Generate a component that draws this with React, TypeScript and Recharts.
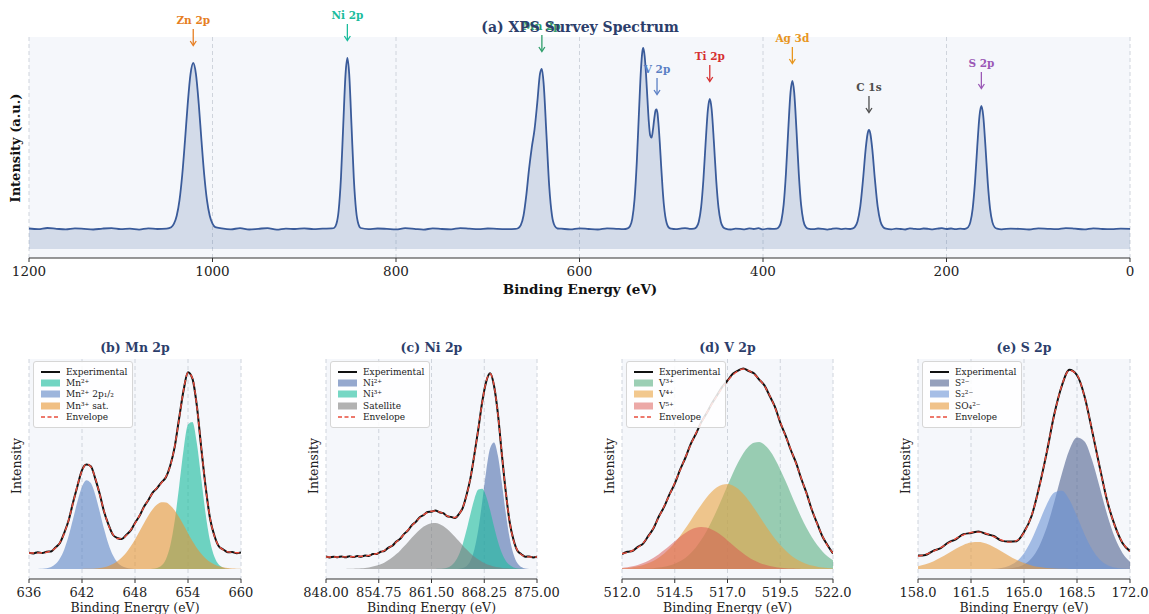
import React from 'react'
import { ComposedChart, Area, Line, XAxis, YAxis, CartesianGrid, ReferenceDot } from 'recharts'

const FONT = '"DejaVu Serif", serif'
const NAVY = '#2c3e6b'
const PLOT_BG = '#f5f7fb'
const GRID = '#cfd4dc'
const AXIS = '#333'
const EXP_COLOR = '#111'
const ENV_COLOR = '#e74c3c'

// ---------- (a) survey spectrum: [binding energy, intensity] ----------
const surveyPoints: [number, number][] = [
    [1200, 20.5], [1190, 19.8], [1180, 21.0], [1170, 20.2], [1160, 19.6], [1150, 20.6], [1140, 20.1], [1130, 19.5],
    [1120, 20.4], [1110, 20.9], [1100, 19.9], [1090, 20.3], [1080, 19.4], [1070, 20.7], [1060, 20.0], [1050, 20.4],
    [1045, 21.8], [1042, 25.3], [1039, 33.2], [1036, 48.6], [1033, 74], [1030, 108.2], [1027, 145.3], [1024, 174.7],
    [1021, 186], [1018, 174.7], [1015, 145.3], [1012, 108.2], [1009, 74], [1006, 48.6], [1003, 33.2], [1000, 25.3], [997, 21.8],
    [990, 20.6], [980, 19.7], [970, 20.8], [960, 19.5], [950, 20.2], [940, 20.9], [930, 19.3], [920, 20.4],
    [910, 20.0], [900, 20.7], [890, 19.8], [880, 20.3], [870, 20.6],
    [867.5, 21], [865, 24.9], [862.5, 38.5], [860, 71], [857.5, 123.8], [855, 174.9], [853, 191], [851, 174.9],
    [848.5, 123.8], [846, 71], [843.5, 38.5], [841, 24.9], [838.5, 21],
    [830, 19.9], [820, 20.5], [810, 20.1], [800, 19.6], [790, 20.8], [780, 20.2], [770, 19.4], [760, 20.6],
    [750, 20.0], [740, 19.7], [730, 20.9], [720, 20.3], [710, 19.8], [700, 20.5], [690, 20.1], [680, 19.9],
    [670, 20.1], [667, 20.8], [664, 23.8], [661, 33.5], [658, 53.6], [655, 79.9], [652, 101.7], [649, 119.6],
    [646, 146.6], [643, 175.6], [641, 180.1], [639, 164.4], [636, 113.9], [633, 62.8], [630, 33.7], [627, 23.1], [624, 20.5],
    [620, 20.3], [610, 19.6], [600, 20.7], [590, 20.0], [580, 19.5], [570, 20.6], [560, 20.2], [552, 19.8],
    [547.5, 20.6], [545, 22.7], [542.5, 30.1], [540, 49.7], [537.5, 87.9], [535, 140.7], [533, 179.7], [531.5, 197.4],
    [530.5, 201], [529, 193], [527.5, 175], [526, 150.7], [524.5, 127.7], [523, 113.7], [521.5, 111.3], [520, 118.8],
    [518.5, 130.4], [517, 138.9], [516, 139.7], [515, 135.8], [514, 126], [512.5, 106.5], [511, 83], [509.5, 61.3],
    [508, 44], [506.5, 32.6], [505, 26], [503.5, 22.5], [502, 21], [500, 20.3],
    [495, 19.8], [490, 20.4], [485, 20.9], [480, 20.2],
    [475, 20.4], [472.5, 21.9], [470, 27.3], [467.5, 41.3], [465, 68.8], [462.5, 106.7], [460, 140], [458, 150],
    [456, 140], [453.5, 106.7], [451, 68.8], [448.5, 41.3], [446, 27.3], [443.5, 21.9], [441, 20.4],
    [435, 19.5], [430, 20.3], [425, 20.1], [420, 19.7], [415, 20.6], [410, 20.0], [405, 20.8], [400, 19.6], [395, 20.4], [390, 20.1],
    [385, 20.4], [382.5, 22.2], [380, 28.3], [377.5, 44.3], [375, 75.5], [372.5, 118.7], [370, 156.6], [368, 168],
    [366, 156.6], [363.5, 118.7], [361, 75.5], [358.5, 44.3], [356, 28.3], [353.5, 22.2], [351, 20.4],
    [345, 19.8], [340, 20.5], [335, 20.1], [330, 19.4], [325, 20.2], [320, 20.7], [315, 19.9], [310, 20.3], [305, 20.0],
    [303, 20.3], [300, 21.9], [297, 27.5], [294, 42.3], [291, 69.3], [288, 100.9], [286, 115.3], [284.5, 119],
    [283, 115.3], [281, 100.9], [278, 69.3], [275, 42.3], [272, 27.5], [269, 21.9], [266, 20.3],
    [260, 19.6], [255, 20.4], [250, 20.0], [245, 19.5], [240, 20.6], [235, 20.1], [230, 19.8], [225, 20.5],
    [220, 20.2], [215, 19.7], [210, 20.3], [205, 20.8], [200, 20.0], [195, 20.5], [190, 19.9], [185, 20.3], [180, 20.0],
    [179, 20.4], [176.5, 21.8], [174, 26.9], [171.5, 40.2], [169, 66.1], [166.5, 102], [164, 133.5], [162, 143],
    [160, 133.5], [157.5, 102], [155, 66.1], [152.5, 40.2], [150, 26.9], [147.5, 21.8], [145, 20.4],
    [140, 19.7], [130, 20.4], [120, 20.1], [110, 19.5], [100, 20.6], [90, 20.2], [80, 19.8], [70, 20.9],
    [60, 20.3], [50, 19.6], [40, 20.7], [30, 20.0], [20, 19.8], [10, 20.4], [0, 20.1],
]
const surveyTicks = [0, 200, 400, 600, 800, 1000, 1200]

const peakLabels = [
    { label: 'Zn 2p', energy: 1021, intensity: 186, color: '#e67e22' },
    { label: 'Ni 2p', energy: 853, intensity: 191, color: '#1abc9c' },
    { label: 'Mn 2p', energy: 641, intensity: 180, color: '#2e9e6a' },
    { label: 'V 2p', energy: 515.5, intensity: 137, color: '#5b7fc4' },
    { label: 'Ti 2p', energy: 458, intensity: 150, color: '#d63031' },
    { label: 'Ag 3d', energy: 368, intensity: 168, color: '#e8961e' },
    { label: 'C 1s', energy: 284.5, intensity: 119, color: '#4d4d4d' },
    { label: 'S 2p', energy: 162, intensity: 143, color: '#9b59b6' },
]

// ---------- (b) Mn 2p ----------
const mnEnergy = [636, 636.5, 637, 637.5, 638, 638.5, 639, 639.5, 640, 640.5, 641, 641.5, 642, 642.5, 643, 643.5,
    644, 644.5, 645, 645.5, 646, 646.5, 647, 647.5, 648, 648.5, 649, 649.5, 650, 650.5, 651, 651.5, 652, 652.5,
    653, 653.5, 654, 654.5, 655, 655.5, 656, 656.5, 657, 657.5, 658, 658.5, 659, 659.5, 660]
const mnExperimental = [16.4, 15.6, 16.8, 15.9, 17.3, 17.6, 21.5, 26.0, 36.4, 49.0, 66.9, 83.6, 98.9, 104.5, 102.8, 90.4,
    75.2, 57.2, 44.3, 34.2, 31.0, 29.9, 34.0, 38.3, 46.1, 52.9, 62.0, 68.7, 76.4, 80.9, 86.7, 91.8, 103.8, 122.4,
    151.0, 178.7, 196.7, 190.4, 163.3, 121.2, 81.8, 50.3, 33.0, 22.5, 19.5, 16.7, 17.0, 15.8, 16.6]
const mnEnvelope = [16, 16, 16.1, 16.3, 16.8, 18.1, 21.0, 26.5, 35.8, 49.4, 66.4, 84.1, 98.3, 105.0, 102.2, 90.9,
    74.7, 57.7, 43.8, 34.7, 30.5, 30.4, 33.5, 38.8, 45.6, 53.4, 61.5, 69.2, 75.9, 81.4, 86.2, 92.3, 103.3, 122.9,
    150.5, 179.2, 196.2, 190.9, 162.8, 121.7, 81.3, 50.8, 32.5, 23.0, 19.0, 17.2, 16.5, 16.3, 16.2]
const mn2Plus = [0, 0, 0, 0, 0, 0, 0, 0, 0, 0, 0, 0, 0, 0, 0, 0, 0, 0, 0, 0, 0, 0, 0, 0, 0, 0, 0, 0,
    0.2, 1.0, 3.4, 9.8, 23.7, 48.4, 82.8, 119.3, 144.4, 146.9, 125.7, 90.4, 54.7, 27.7, 11.9, 4.2, 1.3, 0.3, 0, 0, 0]
const mn2PlusHalf = [0, 0, 0.1, 0.3, 0.8, 2.1, 5.0, 10.5, 19.8, 33.4, 50.4, 68.0, 82.2, 88.8, 85.9, 74.3, 57.6, 39.9,
    24.7, 13.7, 6.8, 3.0, 1.2, 0.4, 0.1, 0, 0, 0, 0, 0, 0, 0, 0, 0, 0, 0, 0, 0, 0, 0, 0, 0, 0, 0, 0, 0, 0, 0, 0]
const mn3Sat = [0, 0, 0, 0, 0, 0, 0, 0, 0, 0, 0, 0.1, 0.1, 0.2, 0.3, 0.6, 1.1, 1.8, 3.1, 5.0, 7.7, 11.4, 16.3, 22.4,
    29.5, 37.4, 45.5, 53.2, 59.7, 64.4, 66.8, 66.5, 63.6, 58.5, 51.7, 43.9, 35.8, 28.0, 21.1, 15.3, 10.6, 7.1, 4.6,
    2.8, 1.7, 0.9, 0.5, 0.3, 0.2]

// ---------- (c) Ni 2p ----------
const niEnergy = [848, 848.5, 849, 849.5, 850, 850.5, 851, 851.5, 852, 852.5, 853, 853.5, 854, 854.5, 855, 855.5,
    856, 856.5, 857, 857.5, 858, 858.5, 859, 859.5, 860, 860.5, 861, 861.5, 862, 862.5, 863, 863.5, 864, 864.5,
    865, 865.5, 866, 866.5, 867, 867.5, 868, 868.5, 869, 869.5, 870, 870.5, 871, 871.5, 872, 872.5, 873, 873.5,
    874, 874.5, 875]
const niExperimental = [12.5, 11.6, 12.3, 11.8, 12.6, 11.7, 12.8, 11.9, 12.9, 12.2, 13.5, 13.1, 14.9, 15.0, 17.2, 18.2,
    21.4, 23.3, 27.4, 30.2, 35.1, 38.6, 43.9, 47.1, 51.8, 54.0, 57.1, 57.3, 58.5, 56.7, 55.9, 52.8, 52.1, 51.0,
    54.9, 61.2, 74.4, 91.4, 115.2, 140.4, 167.6, 187.3, 195.7, 183.2, 155.0, 114.9, 77.5, 47.0, 29.0, 18.2, 14.8,
    12.2, 12.6, 11.6, 12.4]
const niEnvelope = [12, 12, 12, 12, 12.1, 12.1, 12.2, 12.3, 12.4, 12.7, 13.0, 13.6, 14.4, 15.4, 16.8, 18.6,
    20.9, 23.7, 26.9, 30.6, 34.7, 39.0, 43.4, 47.5, 51.3, 54.4, 56.6, 57.8, 58.0, 57.1, 55.4, 53.2, 51.6, 51.5,
    54.4, 61.6, 73.9, 91.8, 114.7, 140.8, 167.1, 187.7, 195.2, 183.7, 154.5, 115.3, 77.0, 47.4, 28.5, 18.6, 14.3,
    12.6, 12.1, 12, 12]
const ni2Plus = [0, 0, 0, 0, 0, 0, 0, 0, 0, 0, 0, 0, 0, 0, 0, 0, 0, 0, 0, 0, 0, 0, 0, 0, 0, 0, 0, 0, 0, 0, 0, 0, 0,
    0.1, 0.3, 1.0, 3.1, 8.6, 20.1, 40.0, 67.8, 98.0, 120.7, 126.6, 113.2, 86.2, 56.0, 31.0, 14.6, 5.8, 2.0, 0.6,
    0.1, 0, 0]
const ni3Plus = [0, 0, 0, 0, 0, 0, 0, 0, 0, 0, 0, 0, 0, 0, 0, 0, 0, 0, 0, 0, 0, 0, 0, 0, 0, 0, 0, 0,
    0.1, 0.2, 0.5, 1.3, 3.3, 7.2, 14.2, 25.0, 39.4, 55.6, 70.3, 79.4, 80.3, 72.6, 58.8, 42.6, 27.6, 16.0, 8.3, 3.9,
    1.6, 0.6, 0.2, 0, 0, 0, 0]
const niSatellite = [0, 0, 0, 0, 0.1, 0.1, 0.2, 0.3, 0.4, 0.7, 1.0, 1.6, 2.4, 3.4, 4.8, 6.6, 8.9, 11.7, 14.9, 18.6,
    22.7, 27.0, 31.4, 35.5, 39.3, 42.4, 44.6, 45.8, 45.9, 44.9, 42.9, 39.9, 36.3, 32.2, 27.9, 23.6, 19.4, 15.6,
    12.3, 9.4, 7.0, 5.1, 3.7, 2.5, 1.7, 1.1, 0.7, 0.5, 0.3, 0.2, 0.1, 0, 0, 0, 0]

// ---------- (d) V 2p ----------
const vEnergy = [512, 512.25, 512.5, 512.75, 513, 513.25, 513.5, 513.75, 514, 514.25, 514.5, 514.75, 515, 515.25,
    515.5, 515.75, 516, 516.25, 516.5, 516.75, 517, 517.25, 517.5, 517.75, 518, 518.25, 518.5, 518.75, 519,
    519.25, 519.5, 519.75, 520, 520.25, 520.5, 520.75, 521, 521.25, 521.5, 521.75, 522]
const vExperimental = [15.0, 17.2, 18.0, 22.3, 25.4, 33.1, 41.0, 52.7, 62.4, 74.6, 85.3, 99.1, 111.0, 124.7, 135.0,
    146.6, 155.4, 165.2, 173.6, 182.1, 188.5, 195.2, 198.4, 200.6, 198.0, 195.7, 189.4, 183.6, 173.0, 162.1, 146.4,
    133.6, 119.0, 106.1, 90.0, 75.6, 59.0, 45.6, 32.5, 23.6, 15.4]
const vEnvelope = [15.5, 16.5, 18.5, 21.5, 26, 32.5, 41.5, 52, 63, 74, 86, 98.5, 111.5, 124, 135.5, 146, 155.5, 164.5,
    173, 181, 188, 194, 198, 200, 198.5, 195, 190, 183, 173.5, 161.5, 147, 133, 119.5, 105.5, 90.5, 75, 59.5,
    45, 33, 23, 16]
const v3Plus = [0.0, 0.0, 0.1, 0.2, 0.3, 0.5, 0.8, 1.4, 2.2, 3.4, 5.2, 7.7, 11.1, 15.7, 21.6, 28.9, 37.6, 47.7, 58.9,
    71.1, 83.4, 95.5, 106.4, 115.7, 122.4, 126.2, 126.9, 124.2, 118.4, 110.1, 99.6, 87.9, 75.6, 63.2, 51.6, 41.0,
    31.8, 24.0, 17.6, 12.6, 8.8]
const v4Plus = [0.7, 1.1, 1.8, 2.7, 4.0, 5.9, 8.3, 11.5, 15.5, 20.4, 26.3, 33.1, 40.4, 48.3, 56.4, 64.1, 71.2, 77.2,
    81.7, 84.3, 85.0, 83.5, 80.2, 75.0, 68.5, 61.1, 53.2, 45.2, 37.4, 30.2, 23.9, 18.4, 13.8, 10.1, 7.2, 5.1, 3.4,
    2.3, 1.5, 0.9, 0.6]
const v5Plus = [1.1, 1.8, 2.7, 4.1, 5.9, 8.3, 11.3, 14.8, 18.9, 23.3, 27.8, 32.2, 36.1, 39.2, 41.2, 42.0, 41.4, 39.6,
    36.7, 32.9, 28.6, 24.0, 19.6, 15.5, 11.8, 8.7, 6.3, 4.4, 2.9, 1.9, 1.2, 0.7, 0.4, 0.2, 0.1, 0, 0, 0, 0, 0, 0]

// ---------- (e) S 2p ----------
const sEnergy = [158, 158.5, 159, 159.5, 160, 160.5, 161, 161.5, 162, 162.5, 163, 163.5, 164, 164.5, 165, 165.5,
    166, 166.5, 167, 167.5, 168, 168.5, 169, 169.5, 170, 170.5, 171, 171.5, 172]
const sExperimental = [13.4, 14.1, 18.2, 20.9, 26.5, 29.7, 34.8, 36.0, 37.6, 35.0, 33.0, 28.4, 27.5, 27.7, 36.9, 53.0,
    81.9, 116.4, 154.7, 183.3, 199.2, 193.7, 172.6, 138.0, 101.9, 67.7, 43.4, 26.1, 17.9]
const sEnvelope = [12.7, 14.7, 17.6, 21.4, 25.8, 30.3, 34.1, 36.5, 36.9, 35.5, 32.4, 29.0, 26.9, 28.3, 36.3, 53.6,
    81.3, 116.9, 154.1, 183.8, 198.6, 194.2, 172.1, 138.5, 101.3, 68.2, 42.9, 26.6, 17.4]
const s2Minus = [0, 0, 0, 0, 0, 0, 0, 0, 0, 0, 0, 0.2, 0.6, 1.7, 4.6, 10.8, 22.6, 41.4, 67.1, 95.3, 119.3, 131.5,
    127.5, 108.8, 81.7, 54.1, 31.4, 16.1, 7.3]
const s22Minus = [0, 0, 0, 0, 0, 0, 0, 0, 0, 0.1, 0.3, 1.0, 3.0, 7.4, 15.8, 29.3, 46.8, 64.5, 76.5, 78.3, 69.2, 52.7,
    34.6, 19.7, 9.6, 4.1, 1.5, 0.5, 0.1]
const sSulfate = [2.7, 4.7, 7.6, 11.4, 15.8, 20.3, 24.1, 26.5, 26.9, 25.4, 22.1, 17.8, 13.3, 9.2, 5.9, 3.5, 1.9, 1.0,
    0.5, 0.2, 0.1, 0, 0, 0, 0, 0, 0, 0, 0]

type Component = { name: string; values: number[]; color: string; opacity: number }
type PanelSpec = {
    title: string
    plotLeft: number
    plotWidth: number
    domain: [number, number]
    ticks: number[]
    digits: number
    energy: number[]
    experimental: number[]
    envelope: number[]
    components: Component[]
}

const panels: PanelSpec[] = [
    {
        title: '(b) Mn 2p', plotLeft: 29, plotWidth: 212, domain: [636, 660], ticks: [636, 642, 648, 654, 660], digits: 0,
        energy: mnEnergy, experimental: mnExperimental, envelope: mnEnvelope,
        components: [
            { name: 'Mn²⁺', values: mn2Plus, color: '#1abc9c', opacity: 0.62 },
            { name: 'Mn²⁺ 2p₁/₂', values: mn2PlusHalf, color: '#5b84c4', opacity: 0.6 },
            { name: 'Mn³⁺ sat.', values: mn3Sat, color: '#e69532', opacity: 0.6 },
        ],
    },
    {
        title: '(c) Ni 2p', plotLeft: 326, plotWidth: 211, domain: [848, 875], ticks: [848, 854.75, 861.5, 868.25, 875], digits: 2,
        energy: niEnergy, experimental: niExperimental, envelope: niEnvelope,
        components: [
            { name: 'Ni²⁺', values: ni2Plus, color: '#4f6ead', opacity: 0.6 },
            { name: 'Ni³⁺', values: ni3Plus, color: '#1abc9c', opacity: 0.6 },
            { name: 'Satellite', values: niSatellite, color: '#7f7f7f', opacity: 0.6 },
        ],
    },
    {
        title: '(d) V 2p', plotLeft: 622, plotWidth: 211, domain: [512, 522], ticks: [512, 514.5, 517, 519.5, 522], digits: 1,
        energy: vEnergy, experimental: vExperimental, envelope: vEnvelope,
        components: [
            { name: 'V³⁺', values: v3Plus, color: '#5aaf82', opacity: 0.6 },
            { name: 'V⁴⁺', values: v4Plus, color: '#eaa443', opacity: 0.6 },
            { name: 'V⁵⁺', values: v5Plus, color: '#d9534f', opacity: 0.5 },
        ],
    },
    {
        title: '(e) S 2p', plotLeft: 918, plotWidth: 212, domain: [158, 172], ticks: [158, 161.5, 165, 168.5, 172], digits: 1,
        energy: sEnergy, experimental: sExperimental, envelope: sEnvelope,
        components: [
            { name: 'S²⁻', values: s2Minus, color: '#4f6190', opacity: 0.6 },
            { name: 'S₂²⁻', values: s22Minus, color: '#6b93d6', opacity: 0.6 },
            { name: 'SO₄²⁻', values: sSulfate, color: '#e69a3c', opacity: 0.6 },
        ],
    },
]

const PeakMarker = ({ cx, cy, label, color }: any) => (
    <g>
        <text x={cx} y={cy - 39} textAnchor="middle" fontSize={10.5} fontWeight="bold" fill={color} fontFamily={FONT}>
            {label}
        </text>
        <line x1={cx} y1={cy - 34} x2={cx} y2={cy - 18} stroke={color} strokeWidth={1.3} />
        <path d={`M${cx - 3},${cy - 22} L${cx},${cy - 17.5} L${cx + 3},${cy - 22}`} fill="none" stroke={color} strokeWidth={1.3} />
    </g>
)

const textDiv = (cx: number, cy: number, text: string, style: React.CSSProperties = {}) => (
    <div
        style={{
            position: 'absolute', left: cx - 150, top: cy - 9, width: 300, height: 18, lineHeight: '18px',
            textAlign: 'center', fontFamily: FONT, whiteSpace: 'nowrap', ...style,
        }}
    >
        {text}
    </div>
)

function SurveyChart() {
    const rows = surveyPoints.map(([energy, intensity]) => ({ energy, intensity }))
    return (
        <>
            <div style={{ position: 'absolute', left: 0, top: 0 }}>
                <ComposedChart width={1149} height={300} data={rows} margin={{ top: 37, right: 19, bottom: 0, left: 29 }}>
                    <CartesianGrid horizontal={false} strokeDasharray="4 3" stroke={GRID} fill={PLOT_BG} />
                    <XAxis
                        type="number" dataKey="energy" domain={[0, 1200]} reversed ticks={surveyTicks} interval={0}
                        height={42} tickSize={4} tickMargin={4} allowDataOverflow
                        tick={{ fontSize: 13.5, fill: '#222', fontFamily: FONT }}
                        axisLine={{ stroke: AXIS, strokeWidth: 1.2 }} tickLine={{ stroke: AXIS }}
                    />
                    <YAxis type="number" domain={[-9, 212]} width={0} tick={false} tickLine={false} axisLine={{ stroke: AXIS, strokeWidth: 1.2 }} allowDataOverflow />
                    <Area
                        type="monotone" dataKey="intensity" baseValue={0} stroke="#3a5b9a" strokeWidth={1.8}
                        fill="#4a6fa5" fillOpacity={0.2} isAnimationActive={false} dot={false} activeDot={false}
                    />
                    {peakLabels.map((p) => (
                        <ReferenceDot
                            key={p.label} x={p.energy} y={p.intensity} r={0} ifOverflow="visible"
                            shape={(props: any) => <PeakMarker cx={props.cx} cy={props.cy} label={p.label} color={p.color} />}
                        />
                    ))}
                </ComposedChart>
            </div>
            {textDiv(580, 27, '(a) XPS Survey Spectrum', { fontSize: 14, fontWeight: 'bold', color: NAVY })}
            {textDiv(580, 289, 'Binding Energy (eV)', { fontSize: 13.5, fontWeight: 'bold', color: '#111' })}
            {textDiv(16, 148, 'Intensity (a.u.)', { fontSize: 13, fontWeight: 'bold', color: '#111', transform: 'rotate(-90deg)' })}
        </>
    )
}

const LegendBox = ({ p }: { p: PanelSpec }) => {
    const items = [
        { name: 'Experimental', kind: 'line', color: EXP_COLOR, opacity: 1 },
        ...p.components.map((c) => ({ name: c.name, kind: 'patch', color: c.color, opacity: c.opacity })),
        { name: 'Envelope', kind: 'dash', color: ENV_COLOR, opacity: 1 },
    ]
    return (
        <div
            style={{
                position: 'absolute', left: p.plotLeft + 4, top: 361, padding: '4px 5px 4px 7px',
                background: 'rgba(255,255,255,0.85)', border: '1px solid #d6d6d6', borderRadius: 3,
                fontFamily: FONT, fontSize: 9, color: '#222',
            }}
        >
            {items.map((it) => (
                <div key={it.name} style={{ display: 'flex', alignItems: 'center', height: 11.4, whiteSpace: 'nowrap' }}>
                    <svg width={19} height={8} style={{ marginRight: 6 }}>
                        {it.kind === 'line' && <line x1={0} y1={4} x2={19} y2={4} stroke={it.color} strokeWidth={2} />}
                        {it.kind === 'dash' && <line x1={0} y1={4} x2={19} y2={4} stroke={it.color} strokeWidth={1.5} strokeDasharray="4 2.5" />}
                        {it.kind === 'patch' && <rect x={0} y={0.5} width={19} height={7} fill={it.color} fillOpacity={it.opacity} />}
                    </svg>
                    <span>{it.name}</span>
                </div>
            ))}
        </div>
    )
}

function SpectrumPanel({ p }: { p: PanelSpec }) {
    const rows = p.energy.map((x, i) => {
        const row: Record<string, number> = { x, exp: p.experimental[i], env: p.envelope[i] }
        p.components.forEach((c, k) => {
            row['c' + k] = c.values[i]
        })
        return row
    })
    const center = p.plotLeft + p.plotWidth / 2
    return (
        <>
            {textDiv(center, 348, p.title, { fontSize: 12.5, fontWeight: 'bold', color: NAVY })}
            <div style={{ position: 'absolute', left: p.plotLeft - 30, top: 350 }}>
                <ComposedChart width={p.plotWidth + 60} height={253} data={rows} margin={{ top: 9, right: 30, bottom: 0, left: 30 }}>
                    <CartesianGrid horizontal={false} strokeDasharray="4 3" stroke={GRID} fill={PLOT_BG} />
                    <XAxis
                        type="number" dataKey="x" domain={p.domain} ticks={p.ticks} interval={0} allowDataOverflow
                        height={24} tickSize={4} tickMargin={5}
                        tickFormatter={(v: number) => v.toFixed(p.digits)}
                        tick={{ fontSize: 13, fill: '#222', fontFamily: FONT }}
                        axisLine={{ stroke: AXIS, strokeWidth: 1.2 }} tickLine={{ stroke: AXIS }}
                    />
                    <YAxis type="number" domain={[-10, 210]} width={0} tick={false} tickLine={false} axisLine={{ stroke: AXIS, strokeWidth: 1.2 }} allowDataOverflow />
                    {p.components.map((c, k) => (
                        <Area
                            key={c.name} type="monotone" dataKey={'c' + k} baseValue={0} stroke="none"
                            fill={c.color} fillOpacity={c.opacity} isAnimationActive={false} dot={false} activeDot={false}
                        />
                    ))}
                    <Line type="monotone" dataKey="exp" stroke={EXP_COLOR} strokeWidth={2} dot={false} activeDot={false} isAnimationActive={false} />
                    <Line type="monotone" dataKey="env" stroke={ENV_COLOR} strokeWidth={1.4} strokeDasharray="5 3" dot={false} activeDot={false} isAnimationActive={false} />
                </ComposedChart>
            </div>
            <LegendBox p={p} />
            {textDiv(center, 608, 'Binding Energy (eV)', { fontSize: 12.5, color: '#222' })}
            {textDiv(p.plotLeft - 12, 466, 'Intensity', { fontSize: 12.5, color: '#222', transform: 'rotate(-90deg)' })}
        </>
    )
}

export default function App() {
    return (
        <div style={{ position: 'absolute', left: 0, top: 0, width: 1149, height: 614, background: '#fff', overflow: 'hidden' }}>
            <SurveyChart />
            {panels.map((p) => (
                <SpectrumPanel key={p.title} p={p} />
            ))}
        </div>
    )
}
